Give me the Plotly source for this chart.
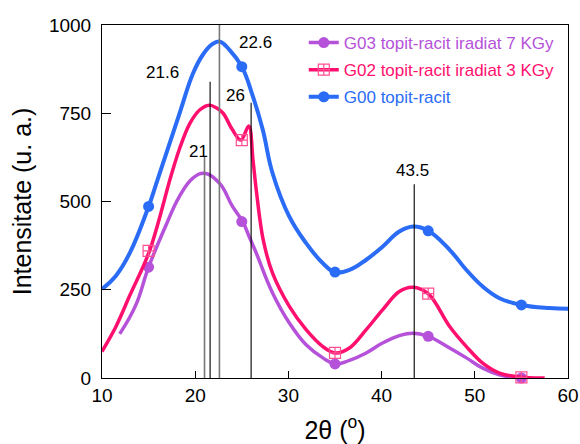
import plotly.graph_objects as go

# ---- data ----
g00_x = [10, 11.5, 13.0, 15, 16.0, 18.35, 19.75, 20.8, 21.8, 22.6, 23.7, 25.0, 26.2, 27.25, 28.3,
         30.1, 31.9, 33.7, 35.0, 36.55, 38.35, 40.1, 41.9, 43.4, 45.0, 47.3, 49.1, 50.85, 52.65, 55.0, 58.0, 60.0]
g00_y = [252, 290, 355, 486, 565, 752, 862, 915, 945, 953, 929, 882, 797, 703, 580,
         457, 382, 325, 300, 306, 335, 372, 415, 429, 417, 363, 306, 259, 226, 207, 198, 196]

g02_x = [10, 11.5, 13.0, 15.1, 17.4, 18.3, 19.4, 20.5, 21.5, 22.3, 23.0, 24.0, 24.9, 25.75,
         26.2, 26.55, 27.3, 28.3, 30.1, 31.9, 33.7, 35.0, 36.55, 38.35, 40.1, 41.9, 43.35, 45.0,
         47.3, 49.1, 50.85, 52.65, 55.0, 57.5]
g02_y = [75, 146, 235, 360, 572, 648, 720, 760, 773, 765, 750, 703, 674, 714,
         618, 533, 391, 297, 203, 137, 89, 71, 85, 137, 193, 245, 257, 239,
         146, 89, 42, 14, 2, 0]

g03_x = [11.9, 13.6, 15.0, 16.9, 18.3, 19.75, 21.0, 22.6, 24.0, 25.1, 25.8, 26.55, 28.3, 30.1, 31.9,
         33.7, 35.0, 36.55, 38.35, 40.1, 41.9, 43.35, 45.0, 47.3, 49.1, 50.85, 52.65, 54.5]
g03_y = [125, 205, 314, 435, 514, 566, 580, 552, 486, 443, 400, 354, 241, 156, 94,
         57, 40, 50, 71, 99, 120, 127, 118, 85, 57, 28, 9, 0]

g00_mx = [15, 25, 35, 45, 55]
g00_my = [486, 882, 300, 417, 207]
g02_mx = [15, 25, 35, 45, 55]
g02_my = [360, 674, 71, 239, 2]
g03_mx = [15, 25, 35, 45, 55]
g03_my = [314, 443, 40, 118, 0]

peak_x = [21, 21.6, 22.6, 26, 43.5]
peak_labels = ["21", "21.6", "22.6", "26", "43.5"]
peak_top = [626, 839, 1000, 780, 549]

x_ticks = [10, 20, 30, 40, 50, 60]
y_ticks = [0, 250, 500, 750, 1000]

names = ["G03 topit-racit iradiat 7 KGy", "G02 topit-racit iradiat 3 KGy", "G00 topit-racit"]

# ---- styles / layout positions ----
C_PUR = "#B552D9"
C_PINK = "#FF0F6E"
C_PINK_M = "#FF4F93"
C_BLUE = "#2A6CF6"
FONT = "Liberation Sans, Arial, sans-serif"

label_pos = [(20.4, 643), (16.5, 866), (26.5, 950), (24.3, 799), (43.35, 588)]
line_style = [("#777777", 1.6), ("#000000", 1.1), ("#777777", 1.6), ("#000000", 1.1), ("#000000", 1.1)]
smooth = [1.2, 1.0, 1.2]

fig = go.Figure()

series = [
    (g03_x, g03_y, g03_mx, g03_my, C_PUR, dict(symbol="circle", size=11, color=C_PUR), 3.5),
    (g02_x, g02_y, g02_mx, g02_my, C_PINK,
     dict(symbol="square-cross-open", size=11, color=C_PINK_M, line=dict(width=1.2, color=C_PINK_M)), 3.5),
    (g00_x, g00_y, g00_mx, g00_my, C_BLUE, dict(symbol="circle", size=11, color=C_BLUE), 4),
]

for i, (x, y, mx, my, col, mk, w) in enumerate(series):
    fig.add_trace(go.Scatter(x=x, y=y, mode="lines",
                             line=dict(color=col, width=w, shape="spline", smoothing=smooth[i]),
                             showlegend=False, hoverinfo="skip", cliponaxis=False))
    fig.add_trace(go.Scatter(x=mx, y=my, mode="markers", marker=mk, showlegend=False, cliponaxis=False))
    fig.add_trace(go.Scatter(x=[None], y=[None], mode="lines+markers", marker=mk,
                             line=dict(color=col, width=w), legendgroup=f"g{i}", legendrank=i + 1,
                             name=f'<span style="color:{col}">{names[i]}</span>'))

for px_, top, (lc, lw) in zip(peak_x, peak_top, line_style):
    fig.add_shape(type="line", x0=px_, x1=px_, y0=0, y1=top, xref="x", yref="y",
                  line=dict(color=lc, width=lw), layer="above")

for txt, (lx, ly) in zip(peak_labels, label_pos):
    fig.add_annotation(x=lx, y=ly, text=txt, showarrow=False, xref="x", yref="y",
                       font=dict(family=FONT, size=17, color="black"))

fig.update_layout(
    width=580, height=444,
    margin=dict(l=102, r=12, t=25, b=66, autoexpand=False),
    paper_bgcolor="white", plot_bgcolor="white",
    font=dict(family=FONT, color="black"),
    legend=dict(x=0.433, y=1.0, xanchor="left", yanchor="top", font=dict(family=FONT, size=17),
                bgcolor="rgba(0,0,0,0)", tracegroupgap=2),
    xaxis=dict(range=[10, 60], tickvals=x_ticks, ticks="inside", ticklen=7, tickcolor="black",
               showline=True, linecolor="black", linewidth=1, mirror=True, showgrid=False, zeroline=False,
               automargin=False, tickfont=dict(size=19, family=FONT),
               title=dict(text="2θ (<sup>o</sup>)", font=dict(size=25, family=FONT), standoff=18)),
    yaxis=dict(range=[0, 1000], tickvals=y_ticks, ticks="inside", ticklen=9, tickcolor="black",
               showline=True, linecolor="black", linewidth=1, mirror=True, showgrid=False, zeroline=False,
               automargin=False, tickfont=dict(size=19, family=FONT), ticklabelstandoff=6,
               title=dict(text="Intensitate (u. a.)", font=dict(size=25, family=FONT), standoff=10)),
)

fig.write_html("out.html")
